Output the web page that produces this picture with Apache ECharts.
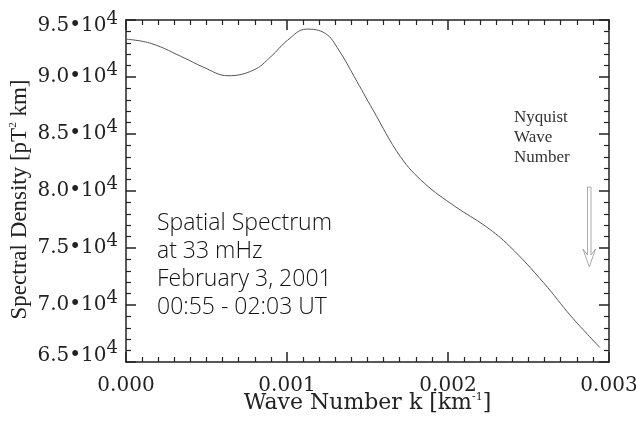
<!DOCTYPE html>
<html>
<head>
<meta charset="utf-8">
<script src="https://cdn.jsdelivr.net/npm/echarts@6/dist/echarts.min.js"></script>
<style>
html, body { margin: 0; padding: 0; background: #fff; }
#chart { width: 636px; height: 425px; }
</style>
</head>
<body>
<div id="chart"></div>
<script>
// wave number k [km^-1]
var waveNumber = [0, 0.000157, 0.000368, 0.000475, 0.000634, 0.000793, 0.000899, 0.001004,
	0.001120, 0.001238, 0.001322, 0.001418, 0.001534, 0.001704, 0.001852, 0.002043,
	0.002234, 0.002383, 0.002594, 0.002764, 0.002944];
// spectral density [pT^2 km]
var density = [93320, 92940, 91630, 90900, 90110, 90610, 91770, 93230,
	94200, 93820, 92360, 90020, 87110, 83020, 80700, 78650,
	76900, 75150, 71950, 69020, 66260];

var xTickLabels = ['0.000', '0.001', '0.002', '0.003'];
var yTickLabels = ['6.5', '7.0', '7.5', '8.0', '8.5', '9.0', '9.5'];
var infoLines = ['Spatial Spectrum', 'at 33 mHz', 'February 3, 2001', '00:55 - 02:03 UT'];
var nyquistLines = ['Nyquist', 'Wave', 'Number'];

var serif = 'DejaVu Serif';
var axisColor = '#222';

var chart = echarts.init(document.getElementById('chart'));

var points = [];
for (var i = 0; i < waveNumber.length; i++) {
	points.push([waveNumber[i], density[i]]);
}

// frame axes: same scale, ticks only, pointing inward
function frameX(pos) {
	return {
		type: 'value', position: pos, min: 0, max: 0.003, interval: 0.001,
		axisLine: { show: true, onZero: false, lineStyle: { color: axisColor, width: 1.5 } },
		axisTick: { show: true, inside: true, length: 10, lineStyle: { color: axisColor, width: 1.5 } },
		minorTick: { show: true, splitNumber: 10, length: 5, lineStyle: { color: axisColor, width: 1.2 } },
		splitLine: { show: false },
		axisLabel: { show: false }
	};
}
function frameY(pos) {
	return {
		type: 'value', position: pos, min: 65000, max: 95000, interval: 5000,
		axisLine: { show: true, onZero: false, lineStyle: { color: axisColor, width: 1.5 } },
		axisTick: { show: true, inside: true, length: 10, lineStyle: { color: axisColor, width: 1.5 } },
		minorTick: { show: true, splitNumber: 5, length: 5, lineStyle: { color: axisColor, width: 1.2 } },
		splitLine: { show: false },
		axisLabel: { show: false }
	};
}

// mantissa + raised exponent, the line height shifts the edge labels inward
function tickRich(lh) {
	return [
		{ fontFamily: serif, fontSize: 20, color: '#222', verticalAlign: 'bottom', lineHeight: lh },
		{ fontFamily: serif, fontSize: 18, color: '#222', verticalAlign: 'bottom', lineHeight: lh, padding: [0, 0, 8, 0] }
	];
}
var rc = tickRich(20), rt = tickRich(32), rb = tickRich(7);

var xBottom = frameX('bottom');
xBottom.axisLabel = {
	show: true, margin: 14, color: '#222', fontFamily: serif, fontSize: 20,
	formatter: function (v) { return xTickLabels[Math.round(v / 0.001)]; }
};
xBottom.name = 'Wave Number k [km{s|-1}]';
xBottom.nameLocation = 'middle';
xBottom.nameGap = 30;
xBottom.nameMoveOverlap = false;
xBottom.nameTextStyle = {
	color: '#222', fontFamily: serif, fontSize: 22,
	rich: { s: { fontFamily: serif, fontSize: 11, verticalAlign: 'top', lineHeight: 10, padding: [0, 0, 10, 0], color: '#222' } }
};

var yLeft = frameY('left');
yLeft.axisLabel = {
	show: true, margin: 8, fontFamily: serif,
	formatter: function (v) {
		var idx = Math.round((v - 65000) / 5000);
		var k = idx === 0 ? 'b' : (idx === yTickLabels.length - 1 ? 't' : 'c');
		return '{m' + k + '|' + yTickLabels[idx] + '\u202210}{s' + k + '|4}';
	},
	rich: { mc: rc[0], sc: rc[1], mt: rt[0], st: rt[1], mb: rb[0], sb: rb[1] }
};
yLeft.name = 'Spectral Density [pT{s|2} km]';
yLeft.nameLocation = 'middle';
yLeft.nameGap = 95;
yLeft.nameMoveOverlap = false;
yLeft.nameTextStyle = {
	color: '#222', fontFamily: 'Liberation Serif', fontSize: 23, padding: [0, 17, 0, 0],
	rich: { s: { fontFamily: 'Liberation Serif', fontSize: 11, verticalAlign: 'top', lineHeight: 10, padding: [0, 0, 10, 0], color: '#222' } }
};

chart.setOption({
	backgroundColor: '#fff',
	animation: false,
	grid: { left: 126, right: 27, top: 20, bottom: 63, outerBoundsMode: 'none' },
	xAxis: [xBottom, frameX('top')],
	yAxis: [yLeft, frameY('right')],
	series: [{
		type: 'line',
		data: points,
		xAxisIndex: 0,
		yAxisIndex: 0,
		smooth: 0.4,
		showSymbol: false,
		lineStyle: { color: '#555', width: 1 }
	}],
	graphic: [
		{
			type: 'text', left: 157, top: 209,
			style: {
				text: infoLines.join('\n'), fill: '#111',
				font: '300 23px "Open Sans"', lineHeight: 28
			}
		},
		{
			type: 'text', left: 514, top: 108,
			style: {
				text: nyquistLines.join('\n'), fill: '#333',
				font: '17px "Liberation Serif"', lineHeight: 20
			}
		},
		{
			type: 'polygon',
			shape: { points: [[587.5, 187], [591, 187], [591, 255], [595.5, 249], [589.3, 267], [583, 249], [587.5, 255]] },
			style: { fill: '#fff', stroke: '#aaa', lineWidth: 1 }
		}
	]
});
</script>
</body>
</html>
